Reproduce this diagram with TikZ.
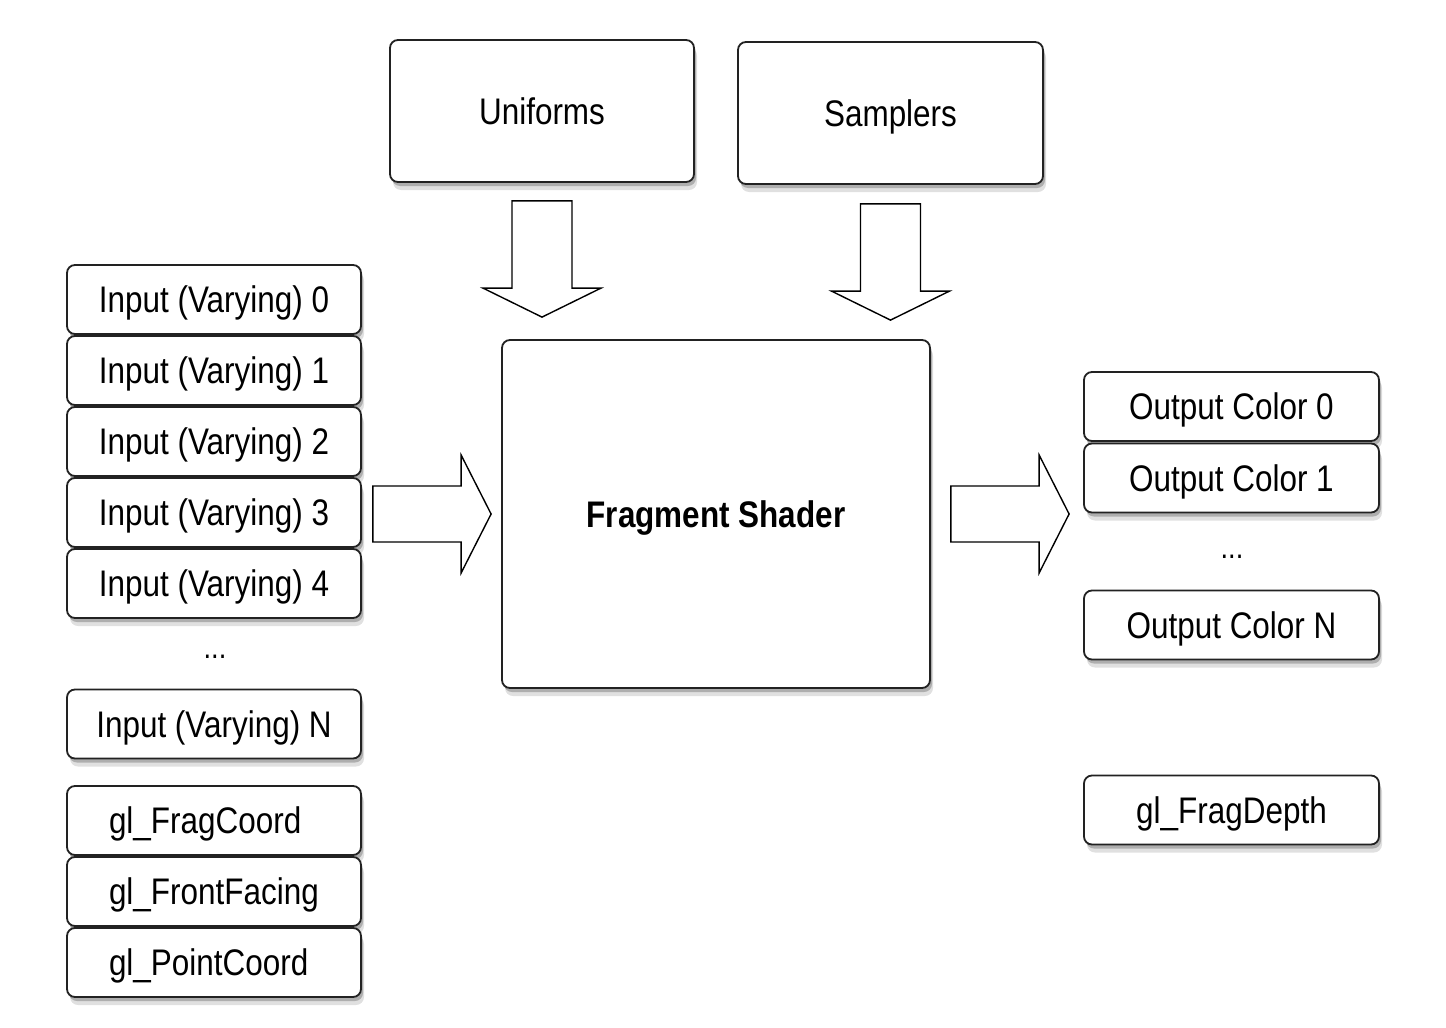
\documentclass[tikz,border=0pt]{standalone}
\usepackage{fontspec}
\setmainfont{Liberation Sans}[FakeStretch=0.85]
\usetikzlibrary{shadows,calc}
\definecolor{edge}{HTML}{222222}
\begin{document}
\begin{tikzpicture}[x=1pt,y=-1pt,
  box/.style={draw=edge, line width=1.8pt, rounded corners=8pt, fill=white,
    drop shadow={shadow xshift=3pt, shadow yshift=-8pt, opacity=0.12, fill=black},
    drop shadow={shadow xshift=2pt, shadow yshift=-4pt, opacity=0.22, fill=black},
    font=\fontsize{37}{39}\selectfont, inner sep=0pt, text height=26.6pt, text depth=0pt},
  inbox/.style={box, minimum width=294pt, minimum height=69pt},
  glbox/.style={inbox, text width=210pt, align=left},
  outbox/.style={box, minimum width=295pt, minimum height=69pt},
  dots/.style={font=\fontsize{32}{34}\selectfont, inner sep=0pt},
  blockarrow/.style={draw=black, line width=1.4pt, fill=white, line join=miter}]
\useasboundingbox (0,0) rectangle (1446,1028);
\fill[white] (0,0) rectangle (1446,1028);

% top boxes
\node[box, minimum width=304pt, minimum height=142pt] (uni) at (542,111) {Uniforms};
\node[box, minimum width=305pt, minimum height=142pt] (sam) at (890.5,113) {Samplers};

% fragment shader
\node[box, minimum width=428pt, minimum height=348pt, font=\fontsize{37}{39}\selectfont\bfseries] (fs) at (716,514) {Fragment Shader};

% inputs
\node[inbox] (in0) at (214,299.5) {Input (Varying) 0};
\node[inbox] (in1) at (214,370.5) {Input (Varying) 1};
\node[inbox] (in2) at (214,441.5) {Input (Varying) 2};
\node[inbox] (in3) at (214,512.5) {Input (Varying) 3};
\node[inbox] (in4) at (214,583.5) {Input (Varying) 4};
\node[dots] (dl) at (215,657) {...};
\node[inbox] (inN) at (214,724) {Input (Varying) N};
\node[glbox] (gfc) at (214,820.5) {gl\_FragCoord};
\node[glbox] (gff) at (214,891.5) {gl\_FrontFacing};
\node[glbox] (gpc) at (214,962.5) {gl\_PointCoord};

% outputs
\node[outbox] (oc0) at (1231.5,406.5) {Output Color 0};
\node[outbox] (oc1) at (1231.5,478) {Output Color 1};
\node[dots] (dr) at (1232,557) {...};
\node[outbox] (ocN) at (1231.5,625) {Output Color N};
\node[outbox] (gfd) at (1231.5,810) {gl\_FragDepth};

% block arrows
\coordinate (ua) at ($(uni.south)+(0,18)$);
\coordinate (ut) at ($(uni.south |- fs.north)+(0,-22)$);
\draw[blockarrow] ($(ua)+(-30,0)$) -- ($(ua)+(30,0)$) -- ($(ut)+(30,-29)$) -- ($(ut)+(59,-29)$)
  -- (ut) -- ($(ut)+(-59,-29)$) -- ($(ut)+(-30,-29)$) -- cycle;

\coordinate (sa) at ($(sam.south)+(0,19)$);
\coordinate (st) at ($(sam.south |- fs.north)+(0,-19)$);
\draw[blockarrow] ($(sa)+(-30,0)$) -- ($(sa)+(30,0)$) -- ($(st)+(30,-29)$) -- ($(st)+(59,-29)$)
  -- (st) -- ($(st)+(-59,-29)$) -- ($(st)+(-30,-29)$) -- cycle;

\coordinate (la) at ($(in3.east |- fs.west)+(11,0)$);
\coordinate (lt) at ($(fs.west)+(-10,0)$);
\draw[blockarrow] ($(la)+(0,-28)$) -- ($(lt)+(-30,-28)$) -- ($(lt)+(-30,-59)$) -- (lt)
  -- ($(lt)+(-30,59)$) -- ($(lt)+(-30,28)$) -- ($(la)+(0,28)$) -- cycle;

\coordinate (ra) at ($(fs.east)+(20,0)$);
\coordinate (rt) at ($(oc0.west |- fs.east)+(-14,0)$);
\draw[blockarrow] ($(ra)+(0,-28)$) -- ($(rt)+(-30,-28)$) -- ($(rt)+(-30,-59)$) -- (rt)
  -- ($(rt)+(-30,59)$) -- ($(rt)+(-30,28)$) -- ($(ra)+(0,28)$) -- cycle;
\end{tikzpicture}
\end{document}
